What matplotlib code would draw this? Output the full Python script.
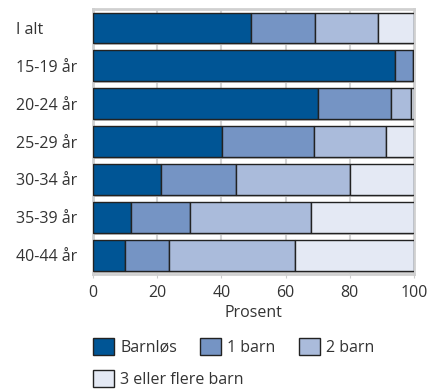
import matplotlib
matplotlib.use("Agg")
import matplotlib.pyplot as plt
import matplotlib.patheffects as pe
from matplotlib.patches import Rectangle
import numpy as np

plt.rcParams['font.family'] = ['Open Sans', 'DejaVu Sans']

categories = ["I alt", "15-19 år", "20-24 år", "25-29 år", "30-34 år", "35-39 år", "40-44 år"]
series_names = ["Barnløs", "1 barn", "2 barn", "3 eller flere barn"]
barnlos = [49.2, 94.1, 70.1, 40.2, 21.3, 11.9, 10.0]
ett_barn = [20.1, 5.6, 22.8, 28.5, 23.3, 18.3, 13.7]
to_barn = [19.6, 0.2, 6.1, 22.7, 35.5, 37.8, 39.2]
tre_pluss = [11.1, 0.1, 1.0, 8.6, 19.9, 32.0, 37.1]
xticks = [0, 20, 40, 60, 80, 100]

colors = ["#005595", "#7594C4", "#AABBDB", "#E4E9F4"]
text_color = "#333333"
fs = 11.5

fig = plt.figure(figsize=(4.3, 3.9), dpi=100)
ax = fig.add_axes([0.216, 0.297, 0.747, 0.680])

shadow = [pe.SimplePatchShadow(offset=(0.8, -1.5), shadow_rgbFace="#c4c4c4", alpha=1.0), pe.Normal()]

y = np.arange(len(categories))
left = np.zeros(len(categories))
handles = []
for vals, col, name in zip([barnlos, ett_barn, to_barn, tre_pluss], colors, series_names):
    vals = np.array(vals)
    bars = ax.barh(y, vals, left=left, height=0.81, color=col, edgecolor="#222222",
                   linewidth=1.0, label=name, zorder=3)
    for b in bars:
        b.set_path_effects(shadow)
    left += vals
    handles.append(Rectangle((0, 0), 1, 1, facecolor=col, edgecolor="#222222", linewidth=1.0))

ax.set_xlim(0, 100)
ax.set_ylim(len(categories) - 0.5, -0.5)
ax.set_yticks(y)
ax.set_yticklabels(categories, fontsize=fs, color=text_color, ha="left")
ax.set_xticks(xticks)
ax.set_xticklabels([str(t) for t in xticks], fontsize=fs, color=text_color)
# left-aligned category labels starting near the figure edge
ax.tick_params(axis='y', length=0, pad=77 * 72 / 100)
ax.tick_params(axis='x', length=3, color="#cccccc", pad=5)
ax.xaxis.grid(True, color="#d4d4d4", linewidth=1.5, zorder=0)
ax.set_axisbelow(True)
for s in ax.spines.values():
    s.set_color("#d0d0d0")
    s.set_linewidth(2)
ax.set_xlabel("Prosent", fontsize=fs, color=text_color, labelpad=3)

leg_kw = dict(frameon=False, fontsize=fs, handlelength=1.3, handleheight=1.3,
              handletextpad=0.4, labelcolor=text_color, borderaxespad=0, borderpad=0)
leg1 = fig.legend(handles[:3], series_names[:3], ncol=3, columnspacing=1.45,
                  loc="upper left", bbox_to_anchor=(93 / 430, 1 - 338 / 390), **leg_kw)
leg2 = fig.legend(handles[3:], series_names[3:], ncol=1,
                  loc="upper left", bbox_to_anchor=(93 / 430, 1 - 370 / 390), **leg_kw)

fig.savefig("out.png", dpi=100)
